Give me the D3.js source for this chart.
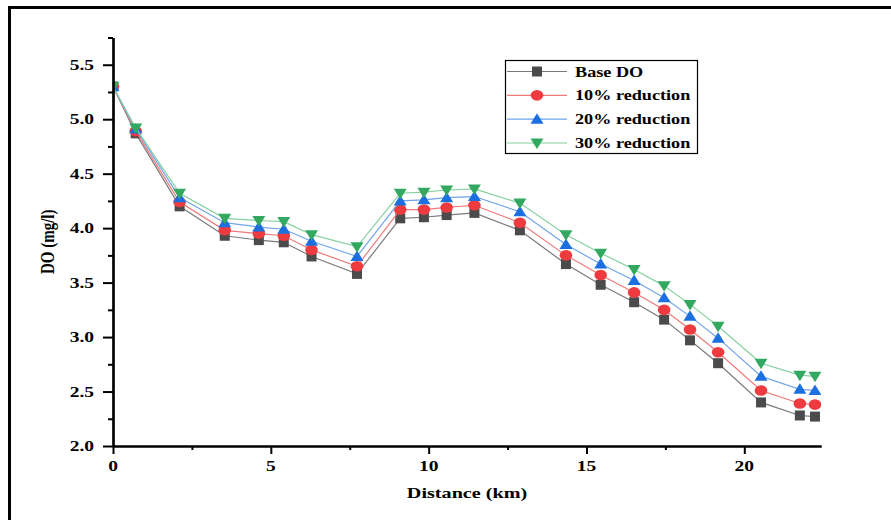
<!DOCTYPE html>
<html>
<head>
<meta charset="utf-8">
<script src="https://cdn.jsdelivr.net/npm/d3@7"></script>
<style>
  html, body { margin: 0; padding: 0; background: #fff; }
  text { font-family: "Liberation Serif", "DejaVu Serif", serif; font-weight: bold; }
</style>
</head>
<body>
<div id="chart"></div>
<script>
// distance along the river (km)
var distance = [0, 0.72, 2.11, 3.54, 4.62, 5.41, 6.29, 7.73, 9.10, 9.85, 10.57, 11.45,
  12.89, 14.35, 15.45, 16.51, 17.46, 18.28, 19.17, 20.53, 21.76, 22.24]

var base_do = [5.30, 4.87, 4.20, 3.93, 3.89, 3.87, 3.74, 3.58, 4.09, 4.10, 4.12, 4.14,
  3.98, 3.67, 3.48, 3.32, 3.16, 2.97, 2.76, 2.40, 2.28, 2.27]
var red10 = [5.30, 4.89, 4.24, 3.98, 3.95, 3.93, 3.80, 3.65, 4.17, 4.17, 4.19, 4.21,
  4.05, 3.75, 3.57, 3.41, 3.25, 3.07, 2.86, 2.51, 2.39, 2.38]
var red20 = [5.30, 4.91, 4.28, 4.05, 4.01, 3.99, 3.88, 3.74, 4.25, 4.26, 4.28, 4.29,
  4.15, 3.85, 3.67, 3.52, 3.36, 3.19, 2.99, 2.64, 2.52, 2.51]
var red30 = [5.30, 4.92, 4.32, 4.09, 4.07, 4.06, 3.94, 3.83, 4.32, 4.33, 4.35, 4.36,
  4.23, 3.94, 3.77, 3.62, 3.47, 3.30, 3.10, 2.76, 2.65, 2.64]

var series_names = ['Base DO', '10% reduction', '20% reduction', '30% reduction']
var x_ticks = [0, 5, 10, 15, 20]
var x_minor = [2.5, 7.5, 12.5, 17.5]
var y_ticks = [2.0, 2.5, 3.0, 3.5, 4.0, 4.5, 5.0, 5.5]
var y_minor = [2.25, 2.75, 3.25, 3.75, 4.25, 4.75, 5.25, 5.75]

var w = 891
var h = 520
var stretch = 1.3  // the source picture is wider than tall

var margins = { left: 113, right: 70, top: 37.5, bottom: 74 }

var x = d3.scaleLinear().domain([0, 22.43]).range([margins.left, w - margins.right])
var y = d3.scaleLinear().domain([2, 5.75]).range([h - margins.bottom, margins.top])

var styles = [
  { line: '#7a7a7a', fill: '#4b4b4b', shape: 'square' },
  { line: '#f07a7a', fill: '#ee3b40', shape: 'circle' },
  { line: '#6fa3ea', fill: '#1c6fdf', shape: 'up' },
  { line: '#86d0a0', fill: '#33a860', shape: 'down' }
]
var all_series = [base_do, red10, red20, red30]

var svg = d3.select('#chart').append('svg')
  .attr('width', w)
  .attr('height', h)

// outer frame (only top and left visible)
svg.append('path')
  .attr('d', 'M9.5,530 V7.5 H900')
  .attr('fill', 'none')
  .attr('stroke', '#000')
  .attr('stroke-width', 3)

svg.append('clipPath').attr('id', 'plotclip')
  .append('rect')
  .attr('x', x.range()[0])
  .attr('y', 0)
  .attr('width', x.range()[1] - x.range()[0])
  .attr('height', h)

function marker (g, shape, cx, cy, color) {
  if (shape === 'square') {
    g.append('rect').attr('x', cx - 5).attr('y', cy - 5)
      .attr('width', 10).attr('height', 10).attr('fill', color)
  } else if (shape === 'circle') {
    g.append('ellipse').attr('cx', cx).attr('cy', cy)
      .attr('rx', 6.3).attr('ry', 5.3).attr('fill', color)
  } else if (shape === 'up') {
    g.append('path')
      .attr('d', 'M' + (cx - 6.5) + ',' + (cy + 4.5) + 'L' + (cx + 6.5) + ',' + (cy + 4.5) + 'L' + cx + ',' + (cy - 6) + 'Z')
      .attr('fill', color)
  } else {
    g.append('path')
      .attr('d', 'M' + (cx - 6.5) + ',' + (cy - 4.5) + 'L' + (cx + 6.5) + ',' + (cy - 4.5) + 'L' + cx + ',' + (cy + 6) + 'Z')
      .attr('fill', color)
  }
}

// helper for the horizontally wide text of the source
function wide_text (parent, str, tx, ty, anchor, size) {
  return parent.append('text')
    .attr('transform', 'translate(' + tx + ',' + ty + ') scale(' + stretch + ',1)')
    .attr('text-anchor', anchor)
    .style('font-size', size + 'px')
    .text(str)
}

// series
var plot = svg.append('g').attr('clip-path', 'url(#plotclip)')
var line = d3.line()
  .x(function (d) { return x(d[0]) })
  .y(function (d) { return y(d[1]) })

all_series.forEach(function (vals, i) {
  var pts = distance.map(function (d, k) { return [d, vals[k]] })
  plot.append('path')
    .attr('d', line(pts))
    .attr('fill', 'none')
    .attr('stroke', styles[i].line)
    .attr('stroke-width', 1.2)
  pts.forEach(function (p) {
    marker(plot, styles[i].shape, x(p[0]), y(p[1]), styles[i].fill)
  })
})

// axes
svg.append('g')
  .attr('transform', 'translate(0,' + y.range()[0] + ')')
  .call(d3.axisBottom(x).tickValues(x_ticks).tickSize(8).tickSizeOuter(0).tickFormat(''))
svg.append('g')
  .attr('transform', 'translate(0,' + y.range()[0] + ')')
  .call(d3.axisBottom(x).tickValues(x_minor).tickSize(4).tickSizeOuter(0).tickFormat(''))
svg.append('g')
  .attr('transform', 'translate(' + x.range()[0] + ',0)')
  .call(d3.axisLeft(y).tickValues(y_ticks).tickSize(10).tickSizeOuter(0).tickFormat(''))
svg.append('g')
  .attr('transform', 'translate(' + x.range()[0] + ',0)')
  .call(d3.axisLeft(y).tickValues(y_minor).tickSize(5).tickSizeOuter(0).tickFormat(''))

svg.selectAll('.domain').attr('stroke', '#000').attr('stroke-width', 2.2)
svg.selectAll('.tick line').attr('stroke', '#000').attr('stroke-width', 2)

x_ticks.forEach(function (t) {
  wide_text(svg, d3.format('d')(t), x(t), y.range()[0] + 25, 'middle', 15)
})
y_ticks.forEach(function (t) {
  wide_text(svg, d3.format('.1f')(t), x.range()[0] - 19, y(t) + 5, 'end', 15)
})

// axis titles
wide_text(svg, 'Distance (km)', (x.range()[0] + x.range()[1]) / 2, 498, 'middle', 15.5)
svg.append('text')
  .attr('transform', 'translate(54,' + ((y.range()[0] + y.range()[1]) / 2) + ') scale(' + stretch + ',1) rotate(-90)')
  .attr('text-anchor', 'middle')
  .style('font-size', '15px')
  .text('DO (mg/l)')

// legend
var legend = svg.append('g')
legend.append('rect')
  .attr('x', 505.5).attr('y', 60.5)
  .attr('width', 192).attr('height', 93)
  .attr('fill', '#fff')
  .attr('stroke', '#000')
  .attr('stroke-width', 1.2)

var legend_y = d3.scalePoint().domain(series_names).range([71.5, 143])
series_names.forEach(function (name, i) {
  var ly = legend_y(name)
  legend.append('line')
    .attr('x1', 507).attr('x2', 567)
    .attr('y1', ly).attr('y2', ly)
    .attr('stroke', styles[i].line)
    .attr('stroke-width', 1.2)
  marker(legend, styles[i].shape, 537, ly, styles[i].fill)
  wide_text(legend, name, 575, ly + 5, 'start', 14)
})
</script>
</body>
</html>
